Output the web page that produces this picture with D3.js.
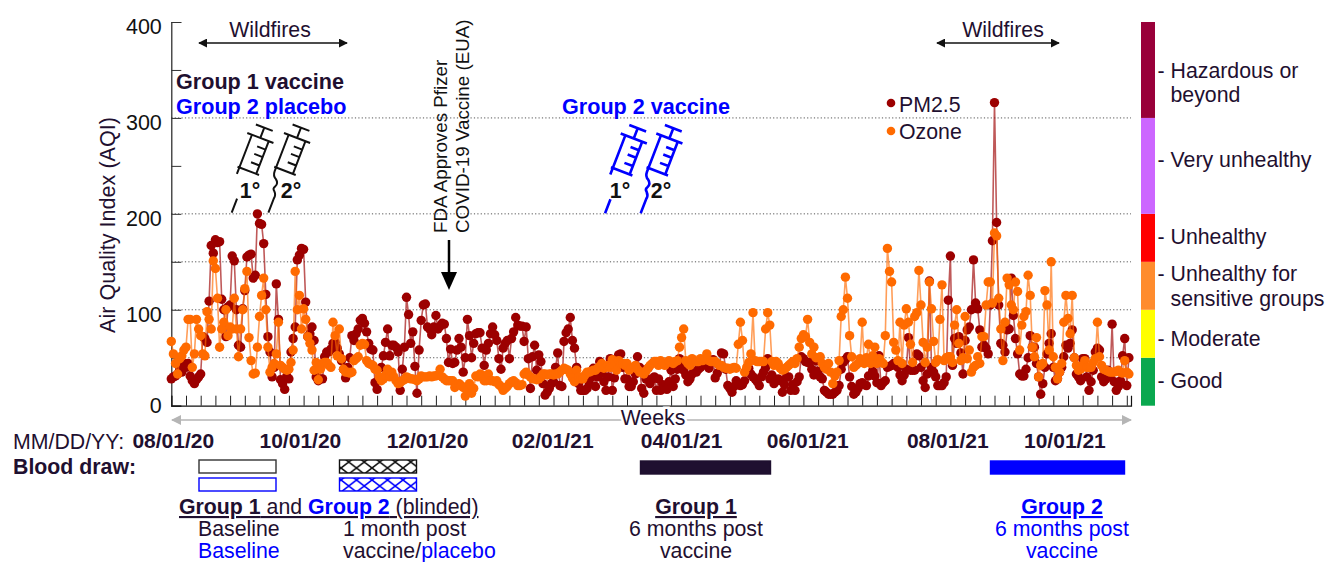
<!DOCTYPE html>
<html lang="en">
<head>
<meta charset="UTF-8">
<title>Air quality index and blood draws</title>
<script src="https://d3js.org/d3.v7.min.js"></script>
<style>
  body { margin: 0; background: #fff; overflow: hidden; }
  svg { display: block; font-family: "Liberation Sans", Arial, sans-serif; }
</style>
</head>
<body>
<svg id="chart" width="1326" height="562"></svg>
<script>
// Daily AQI from 08/01/20, one row per week
const pm25 = [
  28,30,31,33,38,35,44,
  40,44,31,26,23,27,30,
  33,72,70,66,109,167,159,
  173,170,171,111,100,72,103,
  105,156,151,100,63,61,101,
  120,155,157,158,133,136,200,
  190,189,169,116,72,56,30,
  40,127,90,27,23,17,31,
  28,56,70,82,152,157,164,
  163,108,72,75,82,68,30,
  26,28,28,51,56,56,59,
  65,66,60,54,47,38,29,
  40,50,73,68,75,80,89,
  91,86,77,65,59,58,24,
  17,28,40,52,66,80,52,
  63,63,61,56,16,38,61,
  113,95,65,77,41,13,58,
  89,105,106,82,80,74,82,
  94,80,83,86,85,70,45,
  59,44,45,58,70,61,35,
  50,90,73,50,65,75,76,
  76,60,42,58,65,75,82,
  74,68,49,38,60,65,68,
  49,70,77,92,84,83,83,
  67,82,49,18,51,63,37,
  53,46,23,11,14,18,23,
  25,40,55,21,20,67,76,
  80,92,68,60,40,23,16,
  16,16,18,24,30,39,20,
  30,46,34,25,16,30,49,
  16,29,40,53,54,40,28,
  28,20,20,25,33,51,40,
  18,13,28,39,23,28,30,
  16,28,16,22,18,17,25,
  37,20,28,38,49,42,37,
  32,25,28,33,36,35,38,
  40,44,43,42,39,45,48,
  29,34,42,55,54,38,21,
  18,14,20,26,23,21,22,
  26,37,39,33,30,28,25,
  21,30,35,40,49,28,32,
  23,26,28,26,14,22,30,
  30,16,22,16,25,30,51,
  49,46,45,45,38,32,47,
  36,30,28,16,14,12,12,
  12,14,16,21,38,45,48,
  51,30,20,12,14,18,23,
  24,22,21,31,49,36,31,
  24,52,21,24,26,40,41,
  42,44,42,40,32,26,32,
  38,71,37,37,37,54,52,
  40,26,19,33,130,40,35,
  30,21,21,21,24,30,110,
  156,42,70,65,72,55,33,
  68,79,82,100,152,107,101,
  79,61,63,60,54,105,172,
  316,191,105,65,63,56,79,
  80,133,94,70,54,33,31,
  31,38,50,73,61,61,44,
  30,12,23,40,54,65,75,
  40,26,28,35,40,51,63,
  60,65,79,50,33,30,26,
  49,49,30,16,25,37,56,
  60,58,30,25,28,37,30,
  85,25,16,20,26,52,70,
  21,50
];
const ozone = [
  67,54,44,33,49,52,58,
  61,90,90,40,54,90,80,
  73,54,52,98,90,80,151,
  143,112,61,80,87,100,73,
  82,80,112,80,51,80,100,
  122,140,71,47,33,34,61,
  93,115,133,100,61,35,40,
  44,54,87,42,40,38,37,
  38,45,58,140,100,115,80,
  101,90,72,65,58,37,45,
  27,38,44,45,45,42,40,
  87,73,52,80,49,38,35,
  35,34,35,47,49,51,63,
  65,64,47,44,43,42,38,
  37,30,26,28,32,38,30,
  35,30,26,23,24,26,27,
  30,29,28,28,27,26,28,
  31,30,30,30,31,30,31,
  31,32,38,30,28,26,26,
  26,26,19,22,23,21,19,
  10,16,23,13,18,31,30,
  33,32,26,26,33,26,26,
  25,26,22,20,16,18,20,
  23,25,26,24,21,21,22,
  33,35,32,30,28,28,27,
  28,30,33,33,32,33,33,
  32,33,33,35,37,39,38,
  37,33,29,25,37,30,28,
  28,32,35,35,36,37,37,
  39,41,44,39,40,42,40,
  48,42,37,47,44,44,42,
  44,37,39,40,42,38,35,
  35,33,36,39,42,44,46,
  46,42,47,44,42,45,47,
  45,44,46,47,61,71,80,
  47,44,42,49,47,46,46,
  49,47,48,54,47,46,46,
  46,44,42,42,40,39,39,
  38,39,40,39,64,87,68,
  35,40,45,54,97,47,46,
  46,46,46,80,97,84,46,
  42,46,44,39,37,38,40,
  42,44,46,44,49,61,70,
  74,72,90,66,54,61,50,
  50,51,44,40,38,44,35,
  23,31,35,47,93,100,134,
  112,73,51,40,42,44,49,
  87,44,50,64,44,52,61,
  44,49,46,44,73,164,140,
  129,66,58,47,87,44,84,
  101,87,64,45,93,97,141,
  105,66,45,61,129,101,67,
  45,48,90,126,47,50,51,
  51,45,84,100,65,47,50,
  93,49,58,35,40,42,51,
  44,72,72,105,129,129,107,
  180,177,112,80,47,87,133,
  126,105,100,129,119,58,84,
  93,98,136,115,61,51,71,
  30,42,44,120,105,58,150,
  51,40,28,35,44,87,115,
  91,75,115,50,42,37,38,
  42,47,40,40,40,45,49,
  87,51,42,38,37,36,35,
  35,35,36,37,35,34,47,
  35,33
];

const dateLabels = ['2020-08-01', '2020-10-01', '2020-12-01', '2021-02-01', '2021-04-01', '2021-06-01', '2021-08-01', '2021-10-01'];
const yTicks = d3.range(0, 401, 50);
const yLabels = [0, 100, 200, 300, 400];
const gridLines = [50, 100, 150, 200, 300];

const aqiBreaks = [0, 50, 100, 150, 200, 300, 400];
const aqiColors = ['#0aa84f', '#ffff00', '#ff8c2e', '#ff0000', '#cc66ff', '#99003a'];

const DARK = '#1f1030';
const BLUE = '#0000ff';
const PM_COLOR = '#9c0000';
const OZONE_COLOR = '#ff6a00';
const FONT = 21.3;

const svg = d3.select('#chart');

const start = new Date(Date.UTC(2020, 7, 1));
const dayMs = 864e5;
const dates = pm25.map((_, i) => new Date(+start + i * dayMs));

const x = d3.scaleUtc().domain([start, new Date(+start + 457 * dayMs)]).range([171.3, 1131]);
const y = d3.scaleLinear().domain([0, 400]).range([405.7, 22]);

function txt(g, px, py, s, opts = {}) {
  return g.append('text').attr('x', px).attr('y', py)
    .attr('font-size', opts.size || FONT)
    .attr('font-weight', opts.bold ? 'bold' : null)
    .attr('fill', opts.color || DARK)
    .attr('text-anchor', opts.anchor || 'start')
    .text(s);
}

// hatch fill for the 1 month boxes
function hatch(id, color) {
  const p = svg.append('defs').append('pattern').attr('id', id)
    .attr('width', 15.5).attr('height', 12).attr('patternUnits', 'userSpaceOnUse');
  p.append('path').attr('d', 'M0,0L15.5,12M15.5,0L0,12').attr('stroke', color).attr('stroke-width', 1.6).attr('fill', 'none');
}
hatch('hatchDark', '#111');
hatch('hatchBlue', BLUE);

// arrow heads
const defs = svg.append('defs');
[['headDark', '#111', 9], ['headGrey', '#b5b5b5', 10]].forEach(([id, c, s]) => {
  defs.append('marker').attr('id', id).attr('viewBox', '0 0 10 10').attr('refX', 9).attr('refY', 5)
    .attr('markerUnits', 'userSpaceOnUse').attr('markerWidth', s).attr('markerHeight', s).attr('orient', 'auto-start-reverse')
    .append('path').attr('d', 'M0,0L10,5L0,10Z').attr('fill', c);
});

// dotted guides
svg.append('g').selectAll('line').data(gridLines).join('line')
  .attr('x1', x.range()[0]).attr('x2', x.range()[1])
  .attr('y1', d => y(d)).attr('y2', d => y(d))
  .attr('stroke', '#555').attr('stroke-width', 1).attr('stroke-dasharray', '1.2,2.2');

// axes, ticks point inward
const yAxis = svg.append('g').attr('transform', `translate(${x.range()[0]},0)`)
  .call(d3.axisLeft(y).tickValues(yTicks).tickSize(-10).tickPadding(9.5)
    .tickFormat(d => yLabels.includes(d) ? d : ''));
yAxis.selectAll('text').attr('font-size', 21.5).attr('fill', '#111').attr('font-family', 'Liberation Sans')
  .attr('dy', d => d === 0 ? '0.32em' : '0.55em');
yAxis.selectAll('line').attr('stroke', '#333');
yAxis.select('.domain').attr('stroke', '#222').attr('stroke-width', 1.2);

const weekTicks = d3.range(0, 66).map(w => new Date(+start + w * 7 * dayMs));
const xAxis = svg.append('g').attr('transform', `translate(0,${y(0)})`)
  .call(d3.axisBottom(x).tickValues(weekTicks).tickSize(-10).tickFormat(''));
xAxis.selectAll('line').attr('stroke', '#222');
xAxis.select('.domain').attr('stroke', '#111').attr('stroke-width', 1.2);

// series, PM2.5 underneath
function drawSeries(values, color) {
  const g = svg.append('g');
  const line = d3.line().x((_, i) => x(dates[i])).y(d => y(d));
  g.append('path').datum(values).attr('d', line)
    .attr('fill', 'none').attr('stroke', color).attr('stroke-width', 1.6).attr('stroke-opacity', 0.65);
  g.selectAll('circle').data(values).join('circle')
    .attr('cx', (_, i) => x(dates[i])).attr('cy', d => y(d)).attr('r', 4.7).attr('fill', color);
}
drawSeries(pm25, PM_COLOR);
drawSeries(ozone, OZONE_COLOR);

// y title
txt(svg, 0, 0, 'Air Quality Index (AQI)', { anchor: 'middle', size: 21.6 })
  .attr('transform', `translate(114.5,225) rotate(-90)`);

// legend
[['PM2.5', PM_COLOR, 103, 112], ['Ozone', OZONE_COLOR, 131, 139]].forEach(([s, c, cy, ty]) => {
  svg.append('circle').attr('cx', 891).attr('cy', cy).attr('r', 4.3).attr('fill', c);
  txt(svg, 899, ty, s);
});

// AQI colour bar
svg.append('g').selectAll('rect').data(aqiColors).join('rect')
  .attr('x', 1141).attr('width', 14)
  .attr('y', (_, i) => y(aqiBreaks[i + 1]))
  .attr('height', (_, i) => y(aqiBreaks[i]) - y(aqiBreaks[i + 1]))
  .attr('fill', d => d);

const bandText = [
  ['- Good', 388], ['- Moderate', 346], ['- Unhealthy for', 281], ['sensitive groups', 306],
  ['- Unhealthy', 244], ['- Very unhealthy', 167], ['- Hazardous or', 77.5], ['beyond', 102]
];
bandText.forEach(([s, py]) => txt(svg, s[0] === '-' ? 1157.5 : 1170.5, py, s));

// wildfire spans
[[199, 347, 270], [937, 1059, 1003]].forEach(([a, b, c]) => {
  svg.append('line').attr('x1', a).attr('x2', b).attr('y1', 43).attr('y2', 43)
    .attr('stroke', '#111').attr('stroke-width', 1.3)
    .attr('marker-start', 'url(#headDark)').attr('marker-end', 'url(#headDark)');
  txt(svg, c, 37, 'Wildfires', { anchor: 'middle' }).attr('paint-order', 'stroke').attr('stroke', '#fff').attr('stroke-width', 3);
});

// group captions
txt(svg, 176, 89, 'Group 1 vaccine', { bold: true, size: 21.6 });
txt(svg, 176, 114, 'Group 2 placebo', { bold: true, color: BLUE, size: 21.6 });
txt(svg, 562, 114, 'Group 2 vaccine', { bold: true, color: BLUE, size: 21.6 });

// syringes
function syringe(px, py, color, kinked, sw) {
  const g = svg.append('g').attr('transform', `translate(${px},${py}) rotate(21)`)
    .attr('fill', 'none').attr('stroke', color).attr('stroke-width', sw);
  g.append('path').attr('d', 'M-9,0H9M0,0V11M-14,11H14M9,11V46M-11,46H12M0,20H9M0,28H9M0,37H9');
  if (kinked) {
    g.append('path').attr('d', 'M-9,11V50Q-9,55 -5,57Q-1,60 -3,64Q-5,67 -2,69Q1,72 0,76V91');
  } else {
    g.append('path').attr('d', 'M-9,11V53M0,76V91');
  }
}
syringe(264.3, 127.7, '#111', false, 2);
syringe(301, 127.7, '#111', true, 2);
syringe(637.7, 128.3, BLUE, false, 2.6);
syringe(673.3, 128.3, BLUE, true, 2.6);
[[250, '1°'], [291, '2°'], [620, '1°'], [661, '2°']].forEach(([px, s]) =>
  txt(svg, px, 198, s, { bold: true, anchor: 'middle', color: '#111' }));

// FDA note
txt(svg, 0, 0, 'FDA Approves Pfizer', { size: 18.8, color: '#111' }).attr('transform', 'translate(447,233) rotate(-90)');
txt(svg, 0, 0, 'COVID-19 Vaccine (EUA)', { size: 18.8, color: '#111' }).attr('transform', 'translate(469,233) rotate(-90)');
svg.append('line').attr('x1', 449).attr('x2', 449).attr('y1', 240).attr('y2', 275).attr('stroke', '#000').attr('stroke-width', 2.5);
svg.append('path').attr('d', 'M441,272H457L449,290Z').attr('fill', '#000');

// weeks arrow
svg.append('line').attr('x1', 172).attr('x2', 1131).attr('y1', 420).attr('y2', 420)
  .attr('stroke', '#b5b5b5').attr('stroke-width', 1.6)
  .attr('marker-start', 'url(#headGrey)').attr('marker-end', 'url(#headGrey)');
txt(svg, 653, 425, 'Weeks', { anchor: 'middle' }).attr('paint-order', 'stroke').attr('stroke', '#fff').attr('stroke-width', 5);

// date row, labels were nudged by hand in the original
const labelNudge = [2, 1, 0, -5, 0, -2, 10, -1];
txt(svg, 13, 449, 'MM/DD/YY:');
dateLabels.forEach((d, i) => {
  txt(svg, x(new Date(d + 'T00:00:00Z')) + labelNudge[i], 448, d.slice(5, 7) + '/' + d.slice(8) + '/' + d.slice(2, 4), { bold: true, anchor: 'middle', size: 21 });
});

// blood draw row
txt(svg, 13, 474, 'Blood draw:', { bold: true });
function box(px, py, w, fill, stroke) {
  svg.append('rect').attr('x', px).attr('y', py).attr('width', w).attr('height', 13)
    .attr('fill', fill).attr('stroke', stroke).attr('stroke-width', 1.4);
}
box(199, 460, 77, '#fff', '#333');
box(199, 478, 77, '#fff', BLUE);
box(339.5, 460, 77, 'url(#hatchDark)', '#111');
box(339.5, 478, 77, 'url(#hatchBlue)', BLUE);
box(640.5, 461, 130, DARK, DARK);
box(990.5, 461, 134, BLUE, BLUE);

// blood draw captions
const cap = svg.append('text').attr('x', 179).attr('y', 514).attr('font-size', FONT).attr('fill', DARK).attr('text-decoration', 'underline');
cap.append('tspan').attr('font-weight', 'bold').text('Group 1');
cap.append('tspan').text(' and ');
cap.append('tspan').attr('font-weight', 'bold').attr('fill', BLUE).text('Group 2');
cap.append('tspan').text(' (blinded)');

txt(svg, 198, 536, 'Baseline');
txt(svg, 198, 558, 'Baseline', { color: BLUE });
txt(svg, 343, 536, '1 month post');
const vac = txt(svg, 343, 558, 'vaccine/');
vac.append('tspan').attr('fill', BLUE).text('placebo');

txt(svg, 696, 514, 'Group 1', { bold: true, anchor: 'middle' }).attr('text-decoration', 'underline');
txt(svg, 696, 536, '6 months post', { anchor: 'middle' });
txt(svg, 696, 558, 'vaccine', { anchor: 'middle' });
txt(svg, 1062, 514, 'Group 2', { bold: true, anchor: 'middle', color: BLUE }).attr('text-decoration', 'underline');
txt(svg, 1062, 536, '6 months post', { anchor: 'middle', color: BLUE });
txt(svg, 1062, 558, 'vaccine', { anchor: 'middle', color: BLUE });
</script>
</body>
</html>
